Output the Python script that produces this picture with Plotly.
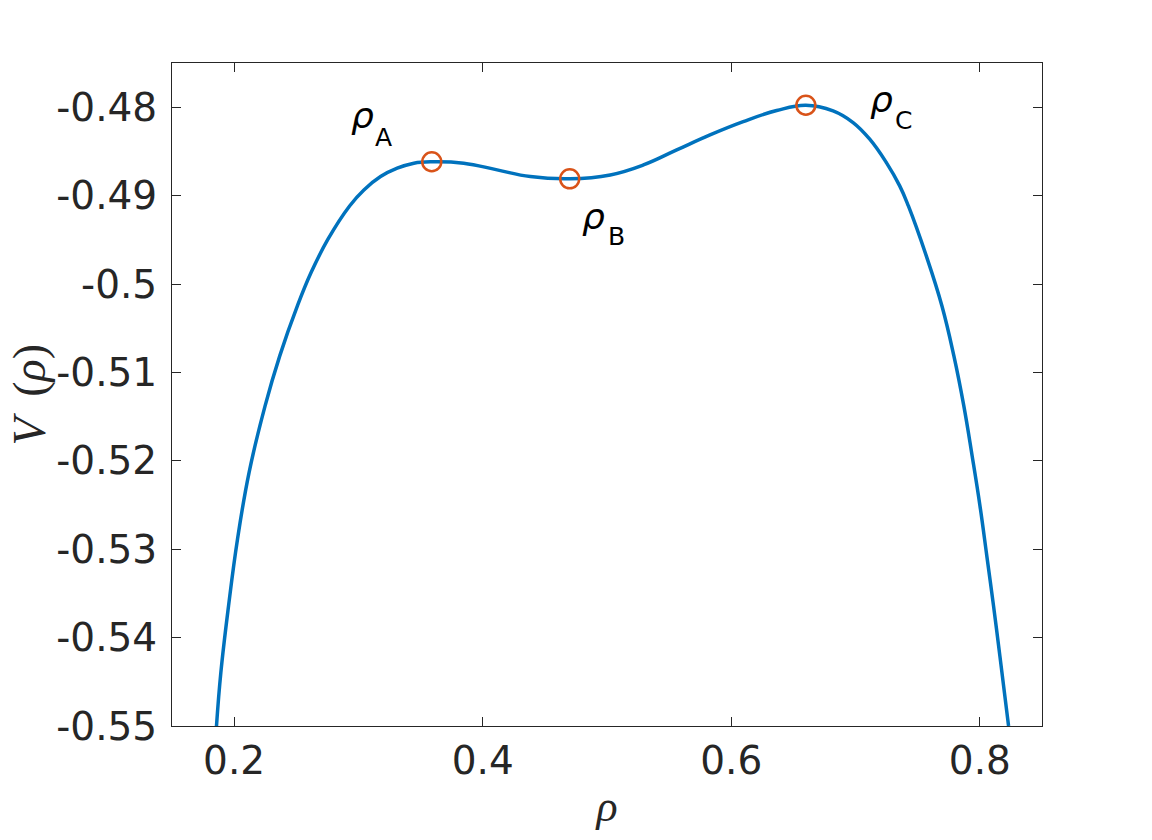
import plotly.graph_objects as go

# curve V(rho)
rho = [0.1858, 0.1893, 0.1955, 0.2027, 0.2120, 0.2249, 0.2367, 0.2509, 0.2619,
       0.2755, 0.2929, 0.3044, 0.3178, 0.3312, 0.3446, 0.359, 0.3847, 0.4116,
       0.4383, 0.470, 0.5026, 0.5293, 0.5561, 0.5829, 0.6096, 0.6365, 0.660,
       0.6819, 0.6980, 0.7114, 0.7248, 0.7355, 0.7425, 0.7569, 0.7695, 0.7791,
       0.7871, 0.7938, 0.8001, 0.8056, 0.8110, 0.8161, 0.8231]
V = [-0.55, -0.54396, -0.53641, -0.52887, -0.52133, -0.51379, -0.50813,
     -0.50248, -0.49871, -0.49493, -0.49117, -0.48936, -0.48785, -0.48690,
     -0.48633, -0.48617, -0.48633, -0.48709, -0.48785, -0.48810, -0.48766,
     -0.48653, -0.48483, -0.48313, -0.48163, -0.48038, -0.47978, -0.48042,
     -0.48174, -0.48362, -0.48627, -0.48890, -0.49117, -0.49682, -0.50248,
     -0.50813, -0.51379, -0.51945, -0.52510, -0.53076, -0.53641, -0.54207,
     -0.55]

# critical points
crit_names = ["A", "B", "C"]
crit_rho = [0.359, 0.470, 0.660]
crit_V = [-0.48617, -0.48810, -0.47978]

xtick_vals = [0.2, 0.4, 0.6, 0.8]
xtick_text = ["0.2", "0.4", "0.6", "0.8"]
ytick_vals = [-0.55, -0.54, -0.53, -0.52, -0.51, -0.50, -0.49, -0.48]
ytick_text = ["-0.55", "-0.54", "-0.53", "-0.52", "-0.51", "-0.5", "-0.49", "-0.48"]

# label placement (rho glyph, subscript letter) in data coords
label_pos = {
    "A": ((0.3034, -0.48090), (0.3205, -0.48342)),
    "B": ((0.4889, -0.49240), (0.5077, -0.49467)),
    "C": ((0.7211, -0.47915), (0.7383, -0.48149)),
}

fig = go.Figure()
fig.add_trace(go.Scatter(x=rho, y=V, mode="lines", line_shape="spline",
                         line={"color": "#0072BD", "width": 3.5, "smoothing": 1.2},
                         showlegend=False))
fig.add_trace(go.Scatter(x=crit_rho, y=crit_V, mode="markers", showlegend=False,
                         marker={"symbol": "circle-open", "size": 19,
                                 "color": "#D95319", "line": {"width": 2.5, "color": "#D95319"}}))

annotations = []
for name in crit_names:
    (rx, ry), (sx, sy) = label_pos[name]
    annotations.append(dict(x=rx, y=ry, text="<i>ρ</i>", showarrow=False,
                            xanchor="center", yanchor="middle",
                            font={"family": "DejaVu Sans", "size": 36, "color": "black"}))
    annotations.append(dict(x=sx, y=sy, text=name, showarrow=False,
                            xanchor="center", yanchor="middle",
                            font={"family": "DejaVu Sans", "size": 25, "color": "black"}))

# y axis title, placed left of the tick labels
annotations.append(dict(xref="paper", yref="paper", x=-0.1643, y=0.5,
                        text="<i>V</i>\u00a0\u2009(<i>ρ</i>)", showarrow=False,
                        textangle=-90, xanchor="center", yanchor="middle", borderpad=0,
                        font={"family": "Liberation Serif", "size": 46, "color": "#262626"}))

axis_common = dict(
    showgrid=False, zeroline=False, showline=True, linecolor="#262626", linewidth=1,
    mirror="ticks", ticks="inside", ticklen=9, tickcolor="#262626", tickwidth=1,
    tickfont={"family": "DejaVu Sans", "size": 39, "color": "#262626"},
    automargin=False,
)

fig.update_layout(
    width=1152, height=840,
    paper_bgcolor="white", plot_bgcolor="white",
    margin={"l": 172, "r": 110, "t": 63, "b": 114},
    xaxis=dict(axis_common, range=[0.15, 0.85], tickvals=xtick_vals, ticktext=xtick_text,
               title={"text": "<i>ρ</i>", "standoff": 8,
                      "font": {"family": "Liberation Serif", "size": 44, "color": "#262626"}}),
    yaxis=dict(axis_common, range=[-0.55, -0.475], tickvals=ytick_vals, ticktext=ytick_text,
               ticklabelstandoff=6),
    annotations=annotations,
)

# drop the default page margin so the figure fills the window
fig.write_html("out.html", config={"displayModeBar": False},
               post_script="document.body.style.margin = '0';")
